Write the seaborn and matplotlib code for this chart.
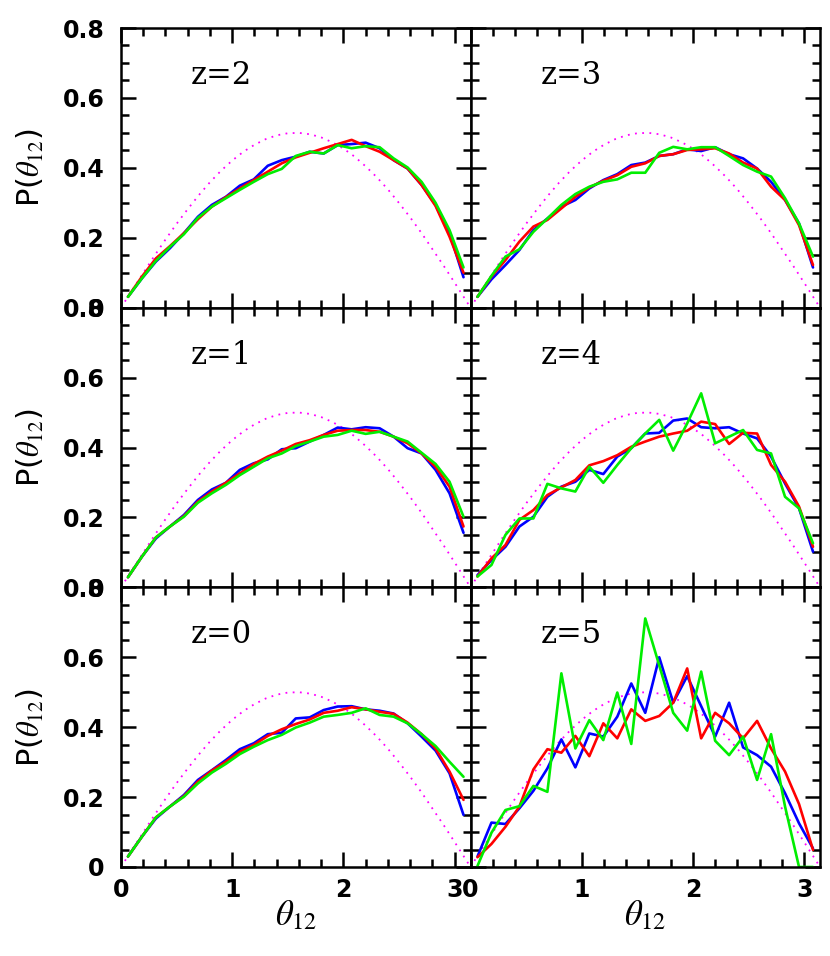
import numpy as np
import pandas as pd
import matplotlib
matplotlib.use("Agg")
import matplotlib.pyplot as plt
import seaborn as sns
from matplotlib.ticker import MultipleLocator

# 25 bins of theta_12 between 0 and pi
n_bins = 25
theta = (np.arange(n_bins) + 0.5) * np.pi / n_bins

# model curve (dotted magenta)
model_x = [0.0, 0.1, 0.2, 0.3, 0.4, 0.5, 0.6, 0.7, 0.8, 0.9, 1.0, 1.1, 1.2, 1.3, 1.4, 1.5,
           1.6, 1.7, 1.8, 1.9, 2.0, 2.1, 2.2, 2.3, 2.4, 2.5, 2.6, 2.7, 2.8, 2.9, 3.0, 3.1, 3.1416]
model_y = [0.0, 0.050, 0.099, 0.148, 0.195, 0.240, 0.282, 0.322, 0.359, 0.392, 0.421, 0.446,
           0.466, 0.482, 0.493, 0.499, 0.500, 0.496, 0.487, 0.473, 0.455, 0.432, 0.404, 0.373,
           0.338, 0.299, 0.258, 0.214, 0.167, 0.120, 0.071, 0.021, 0.0]

# z = 2
z2_blue = [0.031, 0.084, 0.132, 0.170, 0.213, 0.260, 0.294, 0.317, 0.349, 0.367, 0.406, 0.422, 0.432,
           0.446, 0.441, 0.465, 0.468, 0.472, 0.456, 0.422, 0.398, 0.351, 0.294, 0.213, 0.087]
z2_red = [0.031, 0.089, 0.141, 0.176, 0.213, 0.253, 0.289, 0.316, 0.341, 0.365, 0.389, 0.413, 0.430,
          0.443, 0.456, 0.468, 0.480, 0.462, 0.446, 0.422, 0.398, 0.351, 0.291, 0.203, 0.100]
z2_green = [0.031, 0.084, 0.134, 0.174, 0.210, 0.257, 0.289, 0.313, 0.337, 0.360, 0.382, 0.397, 0.434,
            0.446, 0.441, 0.465, 0.456, 0.462, 0.459, 0.427, 0.401, 0.360, 0.300, 0.222, 0.115]

# z = 3
z3_blue = [0.031, 0.081, 0.122, 0.165, 0.222, 0.255, 0.289, 0.308, 0.341, 0.365, 0.382, 0.408, 0.415,
           0.434, 0.439, 0.453, 0.448, 0.459, 0.439, 0.427, 0.398, 0.360, 0.308, 0.241, 0.115]
z3_red = [0.031, 0.089, 0.136, 0.189, 0.232, 0.251, 0.284, 0.317, 0.344, 0.363, 0.379, 0.403, 0.413,
          0.434, 0.439, 0.451, 0.453, 0.456, 0.441, 0.415, 0.398, 0.346, 0.308, 0.236, 0.122]
z3_green = [0.031, 0.091, 0.146, 0.167, 0.217, 0.255, 0.294, 0.325, 0.346, 0.360, 0.367, 0.386, 0.386,
            0.443, 0.460, 0.453, 0.459, 0.459, 0.434, 0.408, 0.389, 0.375, 0.313, 0.241, 0.146]

# z = 1
z1_blue = [0.029, 0.088, 0.140, 0.174, 0.207, 0.250, 0.280, 0.299, 0.336, 0.355, 0.366, 0.395, 0.398,
           0.417, 0.436, 0.457, 0.452, 0.458, 0.455, 0.431, 0.398, 0.383, 0.336, 0.269, 0.156]
z1_red = [0.029, 0.088, 0.143, 0.174, 0.204, 0.245, 0.274, 0.299, 0.326, 0.353, 0.374, 0.391, 0.410,
          0.421, 0.436, 0.448, 0.450, 0.450, 0.445, 0.431, 0.412, 0.383, 0.345, 0.288, 0.174]
z1_green = [0.029, 0.088, 0.143, 0.174, 0.202, 0.242, 0.269, 0.293, 0.321, 0.345, 0.369, 0.383, 0.404,
            0.417, 0.431, 0.436, 0.448, 0.439, 0.445, 0.431, 0.417, 0.385, 0.353, 0.302, 0.202]

# z = 4
z4_blue = [0.035, 0.078, 0.116, 0.174, 0.202, 0.259, 0.288, 0.302, 0.336, 0.324, 0.374, 0.398, 0.440,
           0.442, 0.477, 0.483, 0.458, 0.455, 0.458, 0.440, 0.426, 0.374, 0.297, 0.226, 0.102]
z4_red = [0.031, 0.083, 0.121, 0.193, 0.221, 0.264, 0.286, 0.307, 0.349, 0.361, 0.378, 0.402, 0.417,
          0.431, 0.440, 0.448, 0.474, 0.467, 0.410, 0.442, 0.440, 0.350, 0.302, 0.231, 0.116]
z4_green = [0.031, 0.064, 0.150, 0.197, 0.197, 0.296, 0.283, 0.274, 0.345, 0.299, 0.350, 0.398, 0.440,
            0.479, 0.391, 0.469, 0.555, 0.412, 0.431, 0.450, 0.393, 0.383, 0.259, 0.226, 0.126]

# z = 0
z0_blue = [0.030, 0.087, 0.139, 0.173, 0.206, 0.249, 0.277, 0.306, 0.337, 0.354, 0.380, 0.384, 0.425,
           0.428, 0.449, 0.459, 0.460, 0.451, 0.447, 0.439, 0.411, 0.373, 0.333, 0.268, 0.149]
z0_red = [0.030, 0.087, 0.142, 0.173, 0.203, 0.244, 0.276, 0.301, 0.330, 0.349, 0.375, 0.394, 0.409,
          0.422, 0.441, 0.447, 0.457, 0.451, 0.444, 0.438, 0.413, 0.380, 0.339, 0.273, 0.192]
z0_green = [0.030, 0.087, 0.142, 0.173, 0.201, 0.239, 0.270, 0.295, 0.323, 0.344, 0.363, 0.378, 0.399,
            0.413, 0.430, 0.435, 0.441, 0.454, 0.435, 0.430, 0.411, 0.380, 0.346, 0.301, 0.258]

# z = 5
z5_blue = [0.030, 0.127, 0.123, 0.168, 0.218, 0.282, 0.365, 0.285, 0.382, 0.373, 0.430, 0.525, 0.441,
           0.600, 0.470, 0.546, 0.460, 0.373, 0.470, 0.342, 0.320, 0.287, 0.211, 0.125, 0.053]
z5_red = [0.028, 0.066, 0.115, 0.173, 0.279, 0.337, 0.327, 0.375, 0.317, 0.411, 0.368, 0.451, 0.418,
          0.432, 0.470, 0.568, 0.368, 0.441, 0.411, 0.368, 0.418, 0.339, 0.273, 0.180, 0.049]
z5_green = [0.003, 0.098, 0.163, 0.174, 0.232, 0.215, 0.554, 0.339, 0.420, 0.363, 0.499, 0.352, 0.711,
            0.577, 0.441, 0.390, 0.559, 0.361, 0.320, 0.373, 0.249, 0.380, 0.173, 0.0, 0.0]

panels = [
    ("z=2", z2_blue, z2_red, z2_green),
    ("z=3", z3_blue, z3_red, z3_green),
    ("z=1", z1_blue, z1_red, z1_green),
    ("z=4", z4_blue, z4_red, z4_green),
    ("z=0", z0_blue, z0_red, z0_green),
    ("z=5", z5_blue, z5_red, z5_green),
]

sns.set_style("ticks", {'axes.edgecolor': 'black', 'xtick.color': 'black',
                        'ytick.color': 'black', 'text.color': 'black',
                        'axes.labelcolor': 'black'})
plt.rcParams['font.family'] = ['DejaVu Sans']
plt.rcParams['mathtext.fontset'] = 'stix'

fig, axes = plt.subplots(3, 2, figsize=(8.3, 9.56), dpi=100, sharex=True, sharey=True)
fig.subplots_adjust(left=121 / 830, right=820 / 830, top=1 - 28 / 956, bottom=1 - 867 / 956,
                    hspace=0, wspace=0)

colors = {'blue': '#0000ff', 'red': '#ff0000', 'green': '#00ee00'}

for k, (label, blue, red, green) in enumerate(panels):
    ax = axes[k // 2, k % 2]
    sns.lineplot(x=model_x, y=model_y, ax=ax, color='#ff00ff', lw=1.3,
                 linestyle=(0, (1, 3)), zorder=1)
    for name, vals in [('blue', blue), ('red', red), ('green', green)]:
        df = pd.DataFrame({'theta': theta, 'p': vals})
        sns.lineplot(data=df, x='theta', y='p', ax=ax, color=colors[name], lw=1.9, zorder=2)
    ax.set_xlim(0, np.pi)
    ax.set_ylim(0, 0.8)
    ax.xaxis.set_major_locator(MultipleLocator(1))
    ax.xaxis.set_minor_locator(MultipleLocator(0.2))
    ax.yaxis.set_major_locator(MultipleLocator(0.2))
    ax.yaxis.set_minor_locator(MultipleLocator(0.05))
    ax.tick_params(which='both', direction='in', top=True, right=True, width=1.8,
                   colors='black', labelsize=17)
    ax.tick_params(which='major', length=11)
    ax.tick_params(which='minor', length=5.5)
    ax.tick_params(axis='y', pad=12)
    ax.tick_params(axis='x', pad=8)
    for s in ax.spines.values():
        s.set_linewidth(1.8)
        s.set_color('black')
    ax.set_xlabel('')
    ax.set_ylabel('')
    ax.text(0.20, 0.83, label, transform=ax.transAxes, fontsize=22,
            family='DejaVu Serif', ha='left', va='center')

# y tick labels on the left column, x tick labels on the bottom row
for ax in axes[:, 0]:
    ax.set_yticks([0, 0.2, 0.4, 0.6, 0.8])
    ax.set_yticklabels(['0', '0.2', '0.4', '0.6', '0.8'], fontweight='bold', fontsize=17)
    ax.tick_params(axis='y', labelleft=True)
for ax in axes[:, 1]:
    ax.tick_params(axis='y', labelleft=False)
for ax in axes[2, :]:
    ax.set_xticks([0, 1, 2, 3])
    ax.set_xticklabels(['0', '1', '2', '3'], fontweight='bold', fontsize=17)
    ax.tick_params(axis='x', labelbottom=True)
for ax in axes[:2, :].ravel():
    ax.tick_params(axis='x', labelbottom=False)

# axis titles
for row in range(3):
    bb = axes[row, 0].get_position()
    fig.text(30 / 830, (bb.y0 + bb.y1) / 2, r'P($\theta_{12}$)', rotation=90,
             ha='center', va='center', fontsize=22)
for col in range(2):
    bb = axes[2, col].get_position()
    fig.text((bb.x0 + bb.x1) / 2, 1 - 915 / 956, r'$\theta_{12}$',
             ha='center', va='center', fontsize=25)

fig.savefig('out.png', dpi=100)
